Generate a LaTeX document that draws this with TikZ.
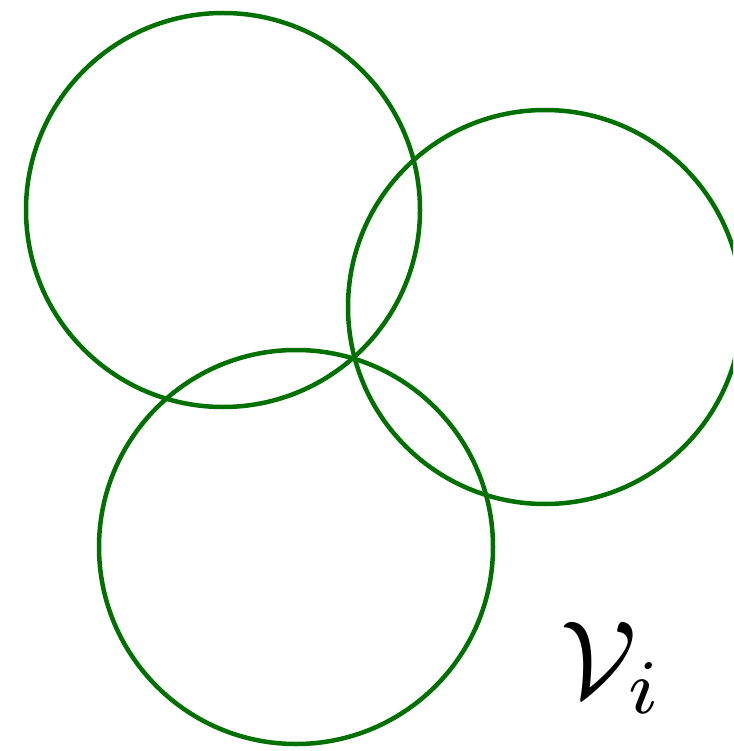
\documentclass[tikz,border=0pt]{standalone}
\begin{document}
\begin{tikzpicture}[x=1pt,y=-1pt,
  ring/.style={draw=ringgreen,line width=4.5pt}]
\definecolor{ringgreen}{RGB}{0,112,0}
\useasboundingbox (0,0) rectangle (733,751);
\begin{scope}
\clip (0,0) rectangle (733,751);
\draw[ring] (223,210) circle[radius=197];
\draw[ring] (545,307) circle[radius=197];
\draw[ring] (296,547) circle[radius=197];
\end{scope}
\node[inner sep=0pt,anchor=base west,scale=11] (lbl) at (558,697) {$\mathcal{V}_i$};
\end{tikzpicture}
\end{document}
